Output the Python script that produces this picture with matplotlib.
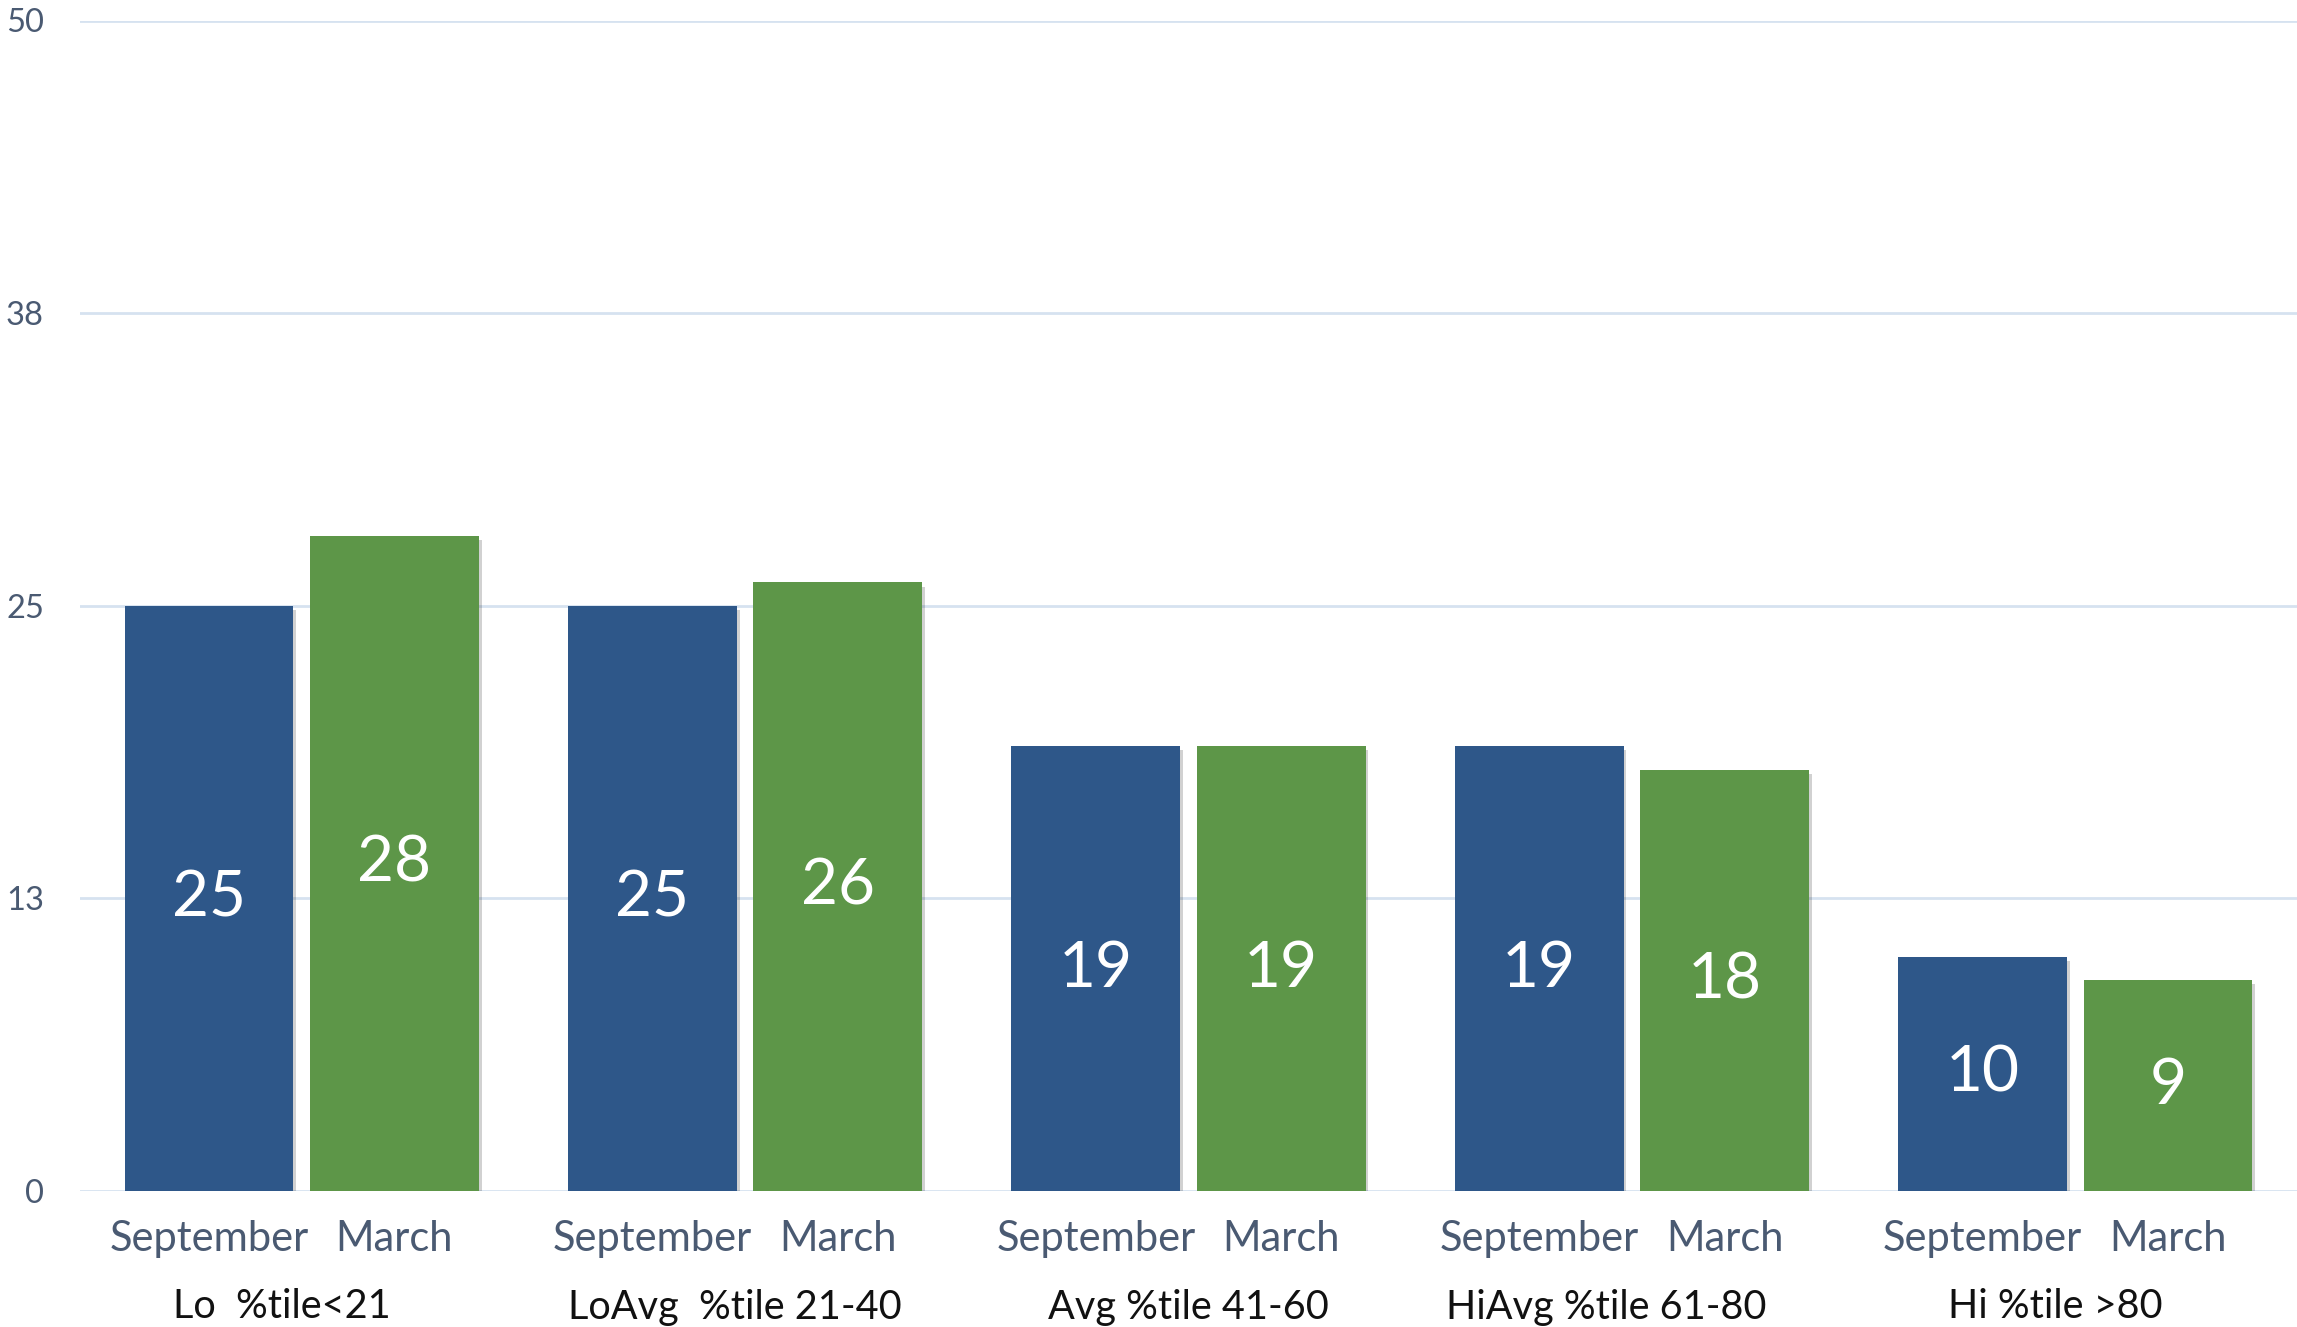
import matplotlib
matplotlib.use("Agg")
import matplotlib.pyplot as plt
import matplotlib.patheffects as pe
from matplotlib.transforms import blended_transform_factory, offset_copy
import numpy as np

plt.rcParams['font.family'] = ['Lato', 'DejaVu Sans']

groups = ["Lo  %tile<21    ", "LoAvg  %tile 21-40  ", "Avg %tile 41-60", "HiAvg %tile 61-80     ", "Hi %tile >80    "]
series_names = ["September", "March"]
september = [25, 25, 19, 19, 10]
march = [28, 26, 19, 18, 9]
yticks = [0, 12.5, 25, 37.5, 50]
ytick_labels = ["0", "13", "25", "38", "50"]

colors = ["#2e5789", "#5d9648"]
W, H = 2297, 1327
dpi = 100
fig = plt.figure(figsize=(W / dpi, H / dpi), dpi=dpi)
ax = fig.add_axes([80 / W, 136 / H, 1 - 80 / W, (1191 - 20.5) / H])

x = np.arange(len(groups))
width = 0.381
offset = 0.209
shadow = [pe.SimplePatchShadow(offset=(2, -3), shadow_rgbFace='#000000', alpha=0.18), pe.Normal()]

tick_pos, tick_lab = [], []
for i, (vals, name) in enumerate(zip([september, march], series_names)):
    pos = x + (-offset if i == 0 else offset)
    bars = ax.bar(pos, vals, width=width, color=colors[i], zorder=3)
    for b in bars:
        b.set_path_effects(shadow)
    for p, v in zip(pos, vals):
        ax.text(p, v / 2, str(v), ha='center', va='center', color='white',
                fontsize=46, zorder=4)
    tick_pos.extend(pos)
    tick_lab.extend([name] * len(pos))

order = np.argsort(tick_pos)
ax.set_xticks(np.array(tick_pos)[order])
ax.set_xticklabels(np.array(tick_lab)[order], fontsize=30, color='#4a5a72')
ax.tick_params(axis='x', length=0, pad=21)

trans = blended_transform_factory(ax.transData, ax.transAxes)
for xi, g in zip(x, groups):
    ax.text(xi, 0, g, transform=offset_copy(trans, fig=fig, x=0, y=-116 * 72 / dpi, units='points'),
            ha='center', va='center', fontsize=28.5, color='#111111')

ax.set_xlim(-0.5, 4.5)
ax.set_ylim(0, 50)
ax.set_yticks(yticks)
ax.set_yticklabels(ytick_labels, fontsize=23.5, color='#4a5a72')
ax.tick_params(axis='y', length=0, pad=26)
ax.grid(axis='y', color='#d6e2f0', linewidth=2, zorder=0)
ax.set_axisbelow(True)
for s in ax.spines.values():
    s.set_visible(False)

fig.savefig("out.png", dpi=dpi, facecolor='white')
